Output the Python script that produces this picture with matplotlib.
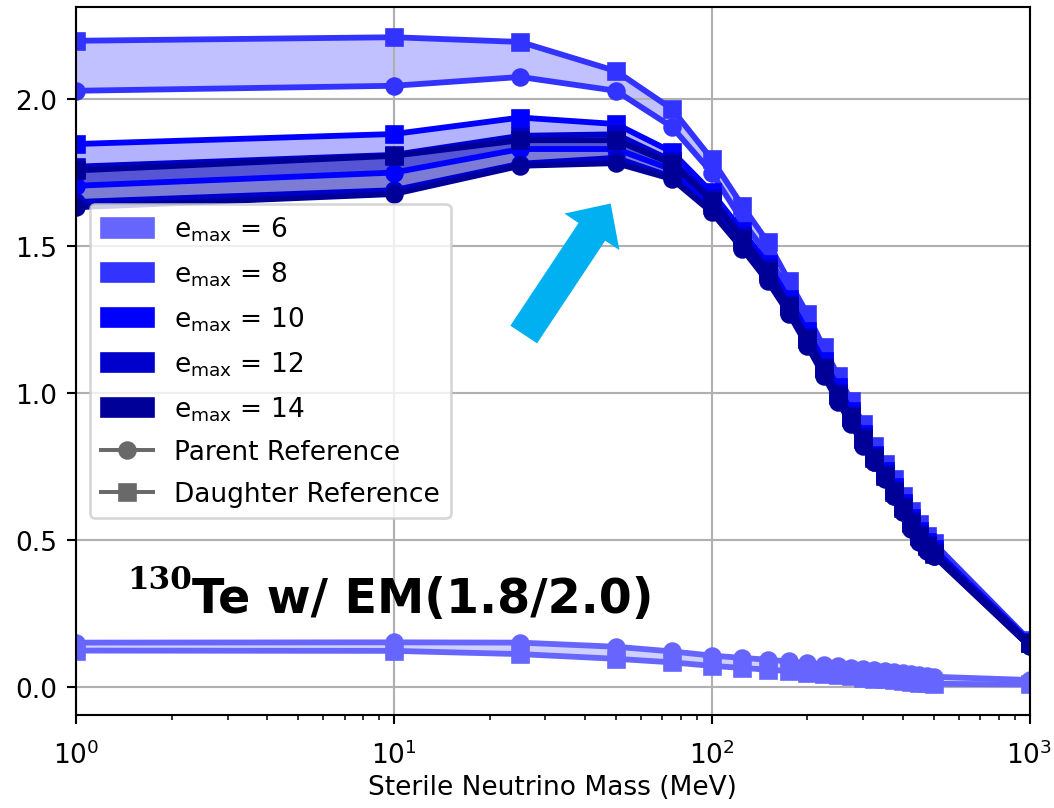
import matplotlib
matplotlib.use("Agg")
import matplotlib.pyplot as plt
from matplotlib.patches import Patch, FancyArrow
from matplotlib.lines import Line2D

# Sterile neutrino masses (MeV)
mass = [1, 10, 25, 50, 75, 100, 125, 150, 175, 200, 225, 250, 275, 300,
        325, 350, 375, 400, 425, 450, 475, 500, 1000]

# parent (circle) / daughter (square) reference curves for each emax
parent_6 = [0.152, 0.153, 0.152, 0.138, 0.122, 0.108, 0.100, 0.094, 0.088, 0.082, 0.077, 0.072,
            0.067, 0.063, 0.059, 0.055, 0.051, 0.048, 0.045, 0.042, 0.039, 0.036, 0.025]
daughter_6 = [0.125, 0.124, 0.113, 0.097, 0.085, 0.073, 0.066, 0.060, 0.055, 0.050, 0.045, 0.041,
              0.037, 0.033, 0.030, 0.027, 0.024, 0.021, 0.018, 0.016, 0.014, 0.012, 0.010]

parent_8 = [2.028, 2.045, 2.075, 2.028, 1.905, 1.750, 1.585, 1.470, 1.340, 1.230, 1.120, 1.030,
            0.940, 0.870, 0.800, 0.740, 0.690, 0.630, 0.580, 0.540, 0.500, 0.480, 0.155]
daughter_8 = [2.198, 2.210, 2.194, 2.095, 1.966, 1.796, 1.636, 1.514, 1.382, 1.269, 1.156, 1.059,
              0.974, 0.895, 0.821, 0.759, 0.707, 0.651, 0.600, 0.554, 0.515, 0.490, 0.160]

parent_10 = [1.705, 1.750, 1.830, 1.830, 1.760, 1.640, 1.510, 1.400, 1.290, 1.180, 1.080, 0.990,
             0.910, 0.840, 0.775, 0.720, 0.660, 0.610, 0.555, 0.510, 0.480, 0.455, 0.145]
daughter_10 = [1.847, 1.881, 1.937, 1.915, 1.820, 1.683, 1.550, 1.440, 1.320, 1.210, 1.110, 1.020,
               0.940, 0.860, 0.790, 0.735, 0.680, 0.625, 0.575, 0.530, 0.495, 0.470, 0.155]

parent_12 = [1.650, 1.690, 1.780, 1.800, 1.735, 1.620, 1.495, 1.385, 1.275, 1.165, 1.065, 0.975,
             0.900, 0.825, 0.767, 0.710, 0.652, 0.597, 0.540, 0.497, 0.467, 0.448, 0.140]
daughter_12 = [1.770, 1.810, 1.875, 1.880, 1.790, 1.665, 1.535, 1.425, 1.300, 1.190, 1.090, 1.000,
               0.925, 0.850, 0.785, 0.725, 0.670, 0.615, 0.565, 0.520, 0.485, 0.460, 0.150]

parent_14 = [1.632, 1.677, 1.773, 1.782, 1.728, 1.615, 1.490, 1.380, 1.270, 1.160, 1.060, 0.970,
             0.895, 0.820, 0.765, 0.707, 0.650, 0.595, 0.537, 0.493, 0.465, 0.447, 0.140]
daughter_14 = [1.757, 1.807, 1.860, 1.860, 1.780, 1.655, 1.525, 1.415, 1.295, 1.185, 1.085, 0.995,
               0.920, 0.845, 0.780, 0.720, 0.665, 0.610, 0.560, 0.515, 0.480, 0.455, 0.150]

emax_values = [6, 8, 10, 12, 14]
parents = [parent_6, parent_8, parent_10, parent_12, parent_14]
daughters = [daughter_6, daughter_8, daughter_10, daughter_12, daughter_14]
colors = ['#6666ff', '#3333ff', '#0000ff', '#0000cc', '#000099']

fig = plt.figure(figsize=(1054 / 190, 809 / 190), dpi=190)
ax = fig.add_axes([76 / 1054, 1 - 716 / 809, (1029.5 - 76) / 1054, (716 - 7.5) / 809])

for emax, par, dau, col in zip(emax_values, parents, daughters, colors):
    ax.fill_between(mass, par, dau, color=col, alpha=0.3, linewidth=0)
    ax.plot(mass, par, marker='o', color=col, linewidth=2.2)
    ax.plot(mass, dau, marker='s', color=col, linewidth=2.2)

ax.set_xscale('log')
ax.set_xlim(1, 1000)
ax.set_ylim(-0.094, 2.3145)
ax.tick_params(axis='x', which='major', pad=6)
ax.set_xlabel('Sterile Neutrino Mass (MeV)', labelpad=2)
ax.grid(True)

# legend: one patch per emax plus marker meaning
handles = [Patch(color=c, label=r'e$_{\mathrm{max}}$ = %d' % e) for e, c in zip(emax_values, colors)]
handles.append(Line2D([], [], color='dimgray', marker='o', label='Parent Reference'))
handles.append(Line2D([], [], color='dimgray', marker='s', label='Daughter Reference'))
ax.legend(handles=handles, loc='upper left', bbox_to_anchor=(14 / 953.5, 1 - (205 - 7.5) / 708.5),
          borderaxespad=0, labelspacing=0.62)

# nucleus label
ax.text(0.0535, 0.1793, '130', transform=ax.transAxes, family='DejaVu Serif',
        fontweight='bold', fontsize=11.8, ha='left', va='baseline')
ax.text(0.1217, 0.1454, 'Te w/ EM(1.8/2.0)', transform=ax.transAxes,
        fontweight='bold', fontsize=18, ha='left', va='baseline')

# highlight arrow (in inches on the figure)
arrow = FancyArrow(523.7 / 190, (809 - 335.5) / 190, 87 / 190, 131 / 190,
                   width=32 / 190, head_width=66 / 190, head_length=34 / 190,
                   length_includes_head=True, color='#00b0f0', linewidth=0,
                   transform=fig.dpi_scale_trans, zorder=5)
fig.patches.append(arrow)

fig.savefig('out.png', dpi=190)
